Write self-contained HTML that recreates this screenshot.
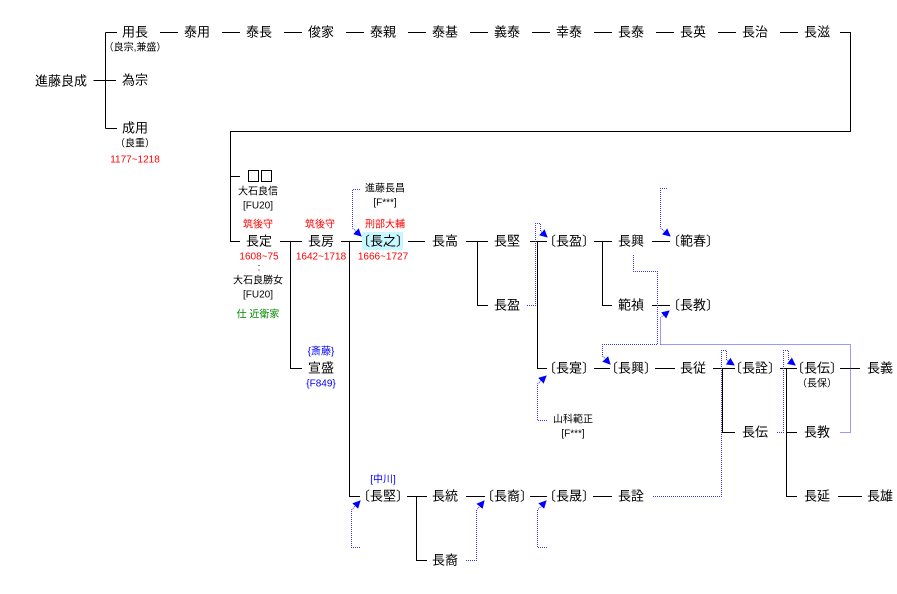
<!DOCTYPE html>
<html><head><meta charset="utf-8"><style>
html,body{margin:0;padding:0;background:#fff}
svg{display:block}
text{font-family:"Liberation Sans","Noto Sans CJK JP",sans-serif;text-anchor:middle;dominant-baseline:central}
.n{font-size:13px;fill:#000}
.s{font-size:10px;fill:#000}
.r{font-size:10px;fill:#f00}
.b{font-size:10px;fill:#00f}
.g{font-size:10px;fill:#080}
.l{stroke:#000;stroke-width:1;fill:none}
.d{stroke:#33f;stroke-width:1;stroke-dasharray:1,1;fill:none}
</style></head><body>
<svg width="897" height="594" viewBox="0 0 897 594" xmlns="http://www.w3.org/2000/svg">
<defs><marker id="a" markerWidth="8" markerHeight="8" refX="7" refY="4" orient="auto" markerUnits="userSpaceOnUse"><path d="M0,0 L8,4 L0,8 z" fill="#00f"/></marker></defs>
<rect x="362" y="232" width="41" height="18" fill="#c8f8ff"/>
<g class="l">
<path d="M93.5,80.5H116M105.5,32.5V128.5M105.5,32.5H117M105.5,128.5H117"/>
<path d="M160,32.5H178M222,32.5H240M284,32.5H302M346,32.5H364M408,32.5H426M470,32.5H488M532,32.5H550M594,32.5H612M656,32.5H674M718,32.5H736M780,32.5H798M840,32.5H850.5V131.5H230.5V241.5H240M230.5,176.5H240"/>
<path d="M280,241.5H302M290.5,241.5V368.5H302"/>
<path d="M341,241.5H362M349.5,241.5V496.5H360"/>
<path d="M408,241.5H425M466,241.5H488M477.5,241.5V305.5H488"/>
<path d="M530,241.5H547M537.5,241.5V368.5H547"/>
<path d="M594,241.5H612M602.5,241.5V305.5H612M652,241.5H670M652,305.5H670"/>
<path d="M594,368.5H610M655,368.5H675M713,368.5H735M722.5,368.5V432.5H735"/>
<path d="M780,368.5H797M786.5,368.5V496.5H797M786.5,432.5H797M840,368.5H860M838,496.5H862"/>
<path d="M407,496.5H427M416.5,496.5V560.5H427M466,496.5H485M530,496.5H547M593,496.5H612"/>
</g>
<g class="d">
<path d="M360,189.5H352.5V228L361,236" marker-end="url(#a)"/>
<path d="M527,305.5H535.5V223.5H540.5V231L547,237" marker-end="url(#a)"/>
<path d="M667,188.5H660.5V228L670,236" marker-end="url(#a)"/>
<path d="M633.5,255V271.5H657.5V344.5H602.5V356L610,364" marker-end="url(#a)"/>
<path d="M660.5,344.5H850.5V432.5H840"/>
<path d="M660.5,344.5V318L669,311" marker-end="url(#a)"/>
<path d="M547,420.5H537.5V384L546,376" marker-end="url(#a)"/>
<path d="M653,496.5H721.5V350.5H726.5V360L734,365" marker-end="url(#a)"/>
<path d="M777,432.5H783.5V350.5H788.5V360L795,365" marker-end="url(#a)"/>
<path d="M360,547.5H351.5V510L360,501" marker-end="url(#a)"/>
<path d="M466,560.5H476.5V510L484,501" marker-end="url(#a)"/>
<path d="M547,547.5H537.5V510L546,501" marker-end="url(#a)"/>
</g>
<text class="n" x="61" y="81">進藤良成</text>
<text class="n" x="135" y="32">用長</text><text class="s" x="135" y="48">（良宗,兼盛）</text>
<text class="n" x="197" y="32">泰用</text><text class="n" x="259" y="32">泰長</text><text class="n" x="321" y="32">俊家</text>
<text class="n" x="383" y="32">泰親</text><text class="n" x="445" y="32">泰基</text><text class="n" x="507" y="32">義泰</text>
<text class="n" x="569" y="32">幸泰</text><text class="n" x="631" y="32">長泰</text><text class="n" x="693" y="32">長英</text>
<text class="n" x="755" y="32">長治</text><text class="n" x="817" y="32">長滋</text>
<text class="n" x="135" y="80">為宗</text>
<text class="n" x="135" y="128">成用</text><text class="s" x="135" y="144">（良重）</text><text class="r" x="135" y="160">1177~1218</text>
<rect x="248.5" y="170.5" width="10" height="11" fill="none" stroke="#000"/><rect x="261.5" y="170.5" width="10" height="11" fill="none" stroke="#000"/>
<text class="s" x="258" y="192">大石良信</text><text class="s" x="258" y="206">[FU20]</text>
<text class="r" x="258" y="225">筑後守</text><text class="n" x="259" y="241">長定</text><text class="r" x="259" y="257">1608~75</text>
<text class="s" x="259" y="268">:</text>
<text class="s" x="258" y="281">大石良勝女</text><text class="s" x="258" y="295">[FU20]</text><text class="g" x="258" y="315">仕 近衛家</text>
<text class="r" x="320" y="225">筑後守</text><text class="n" x="321" y="241">長房</text><text class="r" x="321" y="257">1642~1718</text>
<text class="b" x="321" y="352">{斎藤}</text><text class="n" x="321" y="368">宣盛</text><text class="b" x="321" y="384">{F849}</text>
<text class="s" x="385" y="189">進藤長昌</text><text class="s" x="385" y="203">[F***]</text>
<text class="r" x="385" y="225">刑部大輔</text><text class="n" x="383" y="241">〔長之〕</text><text class="r" x="383" y="257">1666~1727</text>
<text class="n" x="445" y="241">長高</text><text class="n" x="507" y="241">長堅</text><text class="n" x="507" y="305">長盈</text>
<text class="n" x="569" y="241">〔長盈〕</text><text class="n" x="631" y="241">長興</text><text class="n" x="631" y="305">範禎</text>
<text class="n" x="693" y="241">〔範春〕</text><text class="n" x="693" y="305">〔長教〕</text>
<text class="n" x="569" y="368">〔長寔〕</text><text class="n" x="631" y="368">〔長興〕</text><text class="n" x="693" y="368">長従</text>
<text class="n" x="755" y="368">〔長詮〕</text><text class="n" x="817" y="368">〔長伝〕</text><text class="s" x="817" y="384">（長保）</text>
<text class="n" x="880" y="368">長義</text>
<text class="s" x="573" y="420">山科範正</text><text class="s" x="573" y="434">[F***]</text>
<text class="n" x="755" y="432">長伝</text><text class="n" x="817" y="432">長教</text>
<text class="b" x="383" y="480">[中川]</text><text class="n" x="383" y="496">〔長堅〕</text>
<text class="n" x="445" y="496">長統</text><text class="n" x="507" y="496">〔長裔〕</text><text class="n" x="569" y="496">〔長晟〕</text>
<text class="n" x="631" y="496">長詮</text><text class="n" x="817" y="496">長延</text><text class="n" x="880" y="496">長雄</text>
<text class="n" x="445" y="560">長裔</text>
</svg>
</body></html>
